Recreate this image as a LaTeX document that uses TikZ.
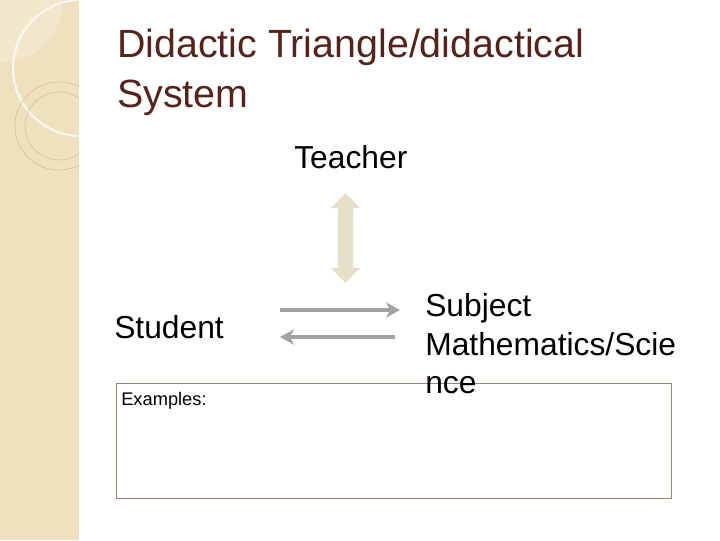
\documentclass[tikz,border=0pt]{standalone}
\usepackage{fontspec}
\setmainfont{Liberation Sans}
\usetikzlibrary{arrows.meta}
\definecolor{titlebrown}{RGB}{85,35,25}
\definecolor{stripbeige}{RGB}{239,225,190}
\definecolor{ringline}{RGB}{212,192,150}
\definecolor{arrowbeige}{RGB}{232,223,200}
\definecolor{arrowgray}{RGB}{162,162,162}
\definecolor{boxbrown}{RGB}{160,130,118}
\tikzset{
  ttl/.style={anchor=base west, inner sep=0pt, text=titlebrown, font=\fontsize{28}{33}\selectfont},
  lbl/.style={anchor=base west, inner sep=0pt, font=\fontsize{22.6}{27}\selectfont},
  small/.style={anchor=base west, inner sep=0pt, font=\fontsize{13}{15}\selectfont},
  exbox/.style={rectangle, draw=boxbrown, line width=0.8pt, anchor=north west, minimum width=13.875cm, minimum height=2.875cm},
  harrow/.style={arrowgray, line width=3pt, -{Stealth[length=10pt, width=11pt, inset=3pt]}}
}
\begin{document}
\begin{tikzpicture}[x=0.025cm, y=-0.025cm]
\useasboundingbox (0,0) rectangle (720,540);

% left strip
\fill[stripbeige] (0,0) rectangle (79,540);
\begin{scope}
\clip (0,0) rectangle (79,540);
\fill[white, opacity=0.2] (0,0) circle (63);
\draw[white, line width=1.5pt, opacity=0.75] (81,68) circle (68);
\draw[ringline, line width=0.4pt] (59,126) circle (44);
\draw[ringline, line width=0.4pt] (59,126) circle (34);
\end{scope}

% title
\node[ttl] (title1) at (117,57) {Didactic Triangle/didactical};
\node[ttl] (title2) at (117,107) {System};

% corners of the triangle
\node[lbl] (teacher) at (294,168) {Teacher};
\node[lbl] (student) at (114,338) {Student};
\node[exbox] (exbox) at (116,383) {};
\node[small] (examples) at (121,405) {Examples:};
\node[lbl] (subj1) at (425,316) {Subject};
\node[lbl] (subj2) at (425,355) {Mathematics/Scie};
\node[lbl] (subj3) at (425,393) {nce};

% connectors
\coordinate (tup) at (345.5,193);
\coordinate (tdn) at (345.5,283);
\fill[arrowbeige] (tup) -- ++(14.5,15) -- ++(-7,0) -- ++(0,60) -- ++(7,0)
  -- (tdn) -- ++(-14.5,-15) -- ++(7,0) -- ++(0,-60) -- ++(-7,0) -- cycle;
\coordinate (rfrom) at (280,310);
\coordinate (rto) at (400,310);
\coordinate (lfrom) at (395,337);
\coordinate (lto) at (280,337);
\draw[harrow] (rfrom) -- (rto);
\draw[harrow] (lfrom) -- (lto);
\end{tikzpicture}
\end{document}
